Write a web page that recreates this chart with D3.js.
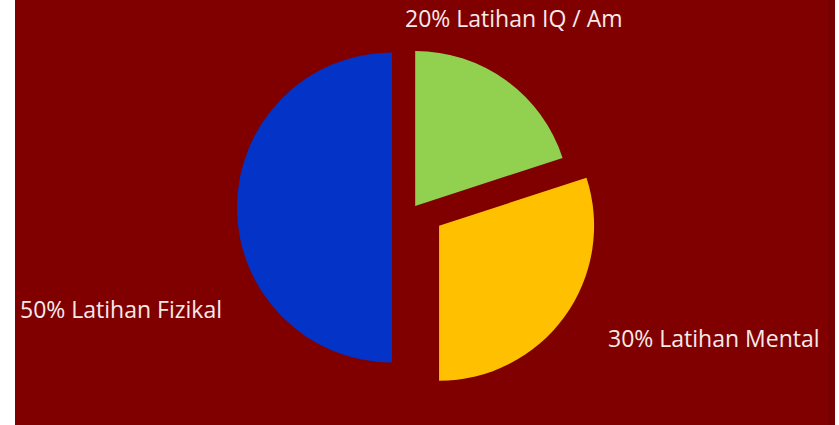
<html>
    <head>
        <style>
            body { margin: 0; background-color: white; }
            svg { display: block; }
        </style>
    </head>
    <body>
        <svg id="chart" width="839" height="425"></svg>
        <script src="https://cdn.jsdelivr.net/npm/d3@7"></script>
        <script>
            // slices, clockwise from 12 o'clock
            const categories = ["Latihan IQ / Am", "Latihan Mental", "Latihan Fizikal"];
            const values = [20, 30, 50];
            const colors = ["#92d050", "#ffc000", "#0433c8"];

            const W = 839, H = 425;
            const CX = 414, CY = 207.5, R = 155;
            const EXPLODE = [2, 31, 22];
            // label anchor offsets from pie centre (text-anchor start, baseline)
            const LABEL_OFF = [[-9, -180.5], [194, 139.5], [-394, 110.5]];

            const svg = d3.select("#chart");

            svg.append("rect")
                .attr("x", 15).attr("y", 0)
                .attr("width", 820).attr("height", H)
                .attr("fill", "#800000");
            svg.append("rect")
                .attr("x", 828).attr("y", 0)
                .attr("width", 7).attr("height", H)
                .attr("fill", "#760000");

            const pie = d3.pie().sort(null).value(d => d)(values);
            const arc = d3.arc().innerRadius(0).outerRadius(R);

            const g = svg.append("g").attr("transform", "translate(" + CX + "," + CY + ")");

            g.selectAll("path.slice")
                .data(pie)
                .join("path")
                .attr("class", "slice")
                .attr("fill", (d, i) => colors[i])
                .attr("transform", (d, i) => {
                    let a = (d.startAngle + d.endAngle) / 2;
                    return "translate(" + (Math.sin(a) * EXPLODE[i]) + "," + (-Math.cos(a) * EXPLODE[i]) + ")";
                })
                .attr("d", arc);

            const fmt = d3.format(".0%");
            const total = d3.sum(values);

            g.selectAll("text.lbl")
                .data(pie)
                .join("text")
                .attr("class", "lbl")
                .attr("x", (d, i) => LABEL_OFF[i][0])
                .attr("y", (d, i) => LABEL_OFF[i][1])
                .attr("fill", "#f6e9e9")
                .style("font-family", "'Open Sans', sans-serif")
                .style("font-size", "23px")
                .text((d, i) => fmt(d.data / total) + " " + categories[i]);
        </script>
    </body>
</html>
